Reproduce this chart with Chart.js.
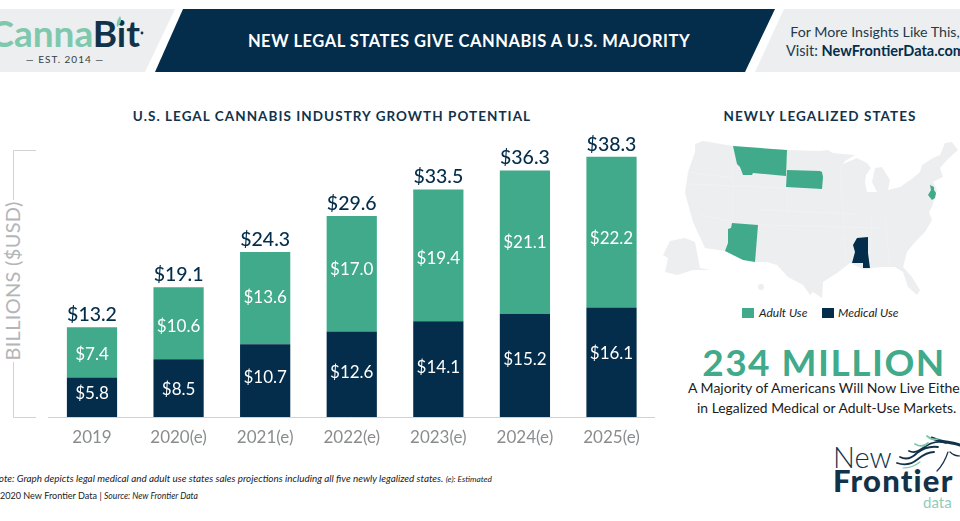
<!DOCTYPE html>
<html>
<head>
<meta charset="utf-8">
<title>New Legal States Give Cannabis a U.S. Majority</title>
<script src="https://cdn.jsdelivr.net/npm/chart.js@4/dist/chart.umd.min.js"></script>
<style>
    html, body { margin: 0; padding: 0; background: #fff; }
    #page { position: relative; width: 960px; height: 521px; overflow: hidden; }
    #art, #chart { position: absolute; left: 0; top: 0; }
    text { font-family: Lato, sans-serif; }
</style>
</head>
<body>
<div id="page">
    <svg id="art" width="960" height="521" viewBox="0 0 960 521">
        <!-- header band -->
        <polygon points="0,9 175,9 145,72 0,72" fill="#eceef0"/>
        <polygon points="183,9 775,9 745,72 155,72" fill="#032d4b"/>
        <polygon points="784,9 960,9 960,72 755,72" fill="#eceef0"/>

        <text x="140" y="47" text-anchor="end" font-size="37" font-weight="700"><tspan fill="#7fc8ae">Canna</tspan><tspan fill="#12324a">Bit</tspan></text>
        <circle cx="142" cy="33" r="1.4" fill="#12324a"/>
        <path d="M117 27 C116 22 118 19 120 16 C122 20 121 24 117 27Z" fill="#7fc8ae"/>
        <text x="65" y="63" text-anchor="middle" font-size="10" letter-spacing="1" fill="#333f48">— EST. 2014 —</text>

        <text x="469" y="47" text-anchor="middle" font-size="16.5" font-weight="700" letter-spacing="0.53" fill="#fff">NEW LEGAL STATES GIVE CANNABIS A U.S. MAJORITY</text>

        <text x="875" y="37" text-anchor="middle" font-size="14.2" fill="#253a4a">For More Insights Like This,</text>
        <text x="786" y="56" font-size="14.5" fill="#253a4a">Visit: <tspan font-weight="700" fill="#032d4b">NewFrontierData.com</tspan></text>

        <text x="332" y="121" text-anchor="middle" font-size="13.5" font-weight="700" letter-spacing="1.05" fill="#12324a">U.S. LEGAL CANNABIS INDUSTRY GROWTH POTENTIAL</text>
        <text x="820" y="121" text-anchor="middle" font-size="13.5" font-weight="700" letter-spacing="1.05" fill="#12324a">NEWLY LEGALIZED STATES</text>

        <!-- axis bracket, the title sits in the gap of the line -->
        <path d="M36 150.5 H13.5 V200 M13.5 362 V417.5 H36" fill="none" stroke="#d0d3d6" stroke-width="1"/>
        <text transform="translate(20,281) rotate(-90)" text-anchor="middle" font-size="20" letter-spacing="0.3" fill="#b3b5b7">BILLIONS ($USD)</text>

        <!-- map -->
        <g fill="#eceef0">
            <polygon points="695,144 703,141 733,146 787,150 820,151 828,150 833,153 843,154 855,155 845,161 843,164 857,158 867,163 871,168 866,175 865,182 867,192 877,192 872,182 875,168 882,167 890,180 888,190 900,187 913,178 920,172 922,165 933,158 940,155 945,143 952,142 958,150 947,160 940,168 943,177 933,182 937,190 932,207 929,212 932,220 925,232 915,242 907,252 903,267 912,277 920,290 917,295 908,287 903,272 895,267 883,267 872,268 865,270 850,263 837,273 823,282 822,298 813,292 810,295 803,285 788,277 777,265 767,262 755,262 725,251 705,248 693,222 685,193 688,172 695,152"/>
            <polygon points="670,241 685,238 695,242 700,268 710,270 693,270 677,275 665,272 668,258 663,255"/>
            <circle cx="761" cy="287" r="3"/>
        </g>
        <g fill="none" stroke="#fff" stroke-width="0.6" opacity="0.35">
            <path d="M688 172 L733 178 M687 184 L737 186 M737 186 L787 188 M787 170 L787 215 M760 210 L860 214 M760 225 L880 228 M760 240 L850 240 M840 165 L846 262 M872 215 L870 268 M885 215 L890 267 M700 215 L735 222 M733 146 L733 222"/>
        </g>
        <polygon fill="#40aa8a" points="733,146 787,150 786,176 753,173 752,175 743,175 740,167 737,164 735,155"/>
        <polygon fill="#40aa8a" points="787,170 820,171 822,172 823,177 822,189 786,187"/>
        <polygon fill="#40aa8a" points="732,223 758,225 755,262 743,260 725,251 728,243 728,229 731,228"/>
        <polygon fill="#40aa8a" points="930,185 934,187 934,190 936,193 935,198 932,200 928,195 931,190"/>
        <polygon fill="#032d4b" points="857,238 868,237 868,253 870,268 863,268 863,263 852,263 855,252 853,245"/>

        <!-- map legend -->
        <rect x="742" y="308" width="12" height="10" fill="#40aa8a"/>
        <text x="759" y="317" font-size="12" font-style="italic" fill="#222">Adult Use</text>
        <rect x="822" y="308" width="12" height="10" fill="#032d4b"/>
        <text x="838" y="317" font-size="12" font-style="italic" fill="#222">Medical Use</text>

        <!-- call out -->
        <text x="824" y="376" text-anchor="middle" font-size="37" font-weight="700" letter-spacing="1.5" fill="#40aa8a">234 MILLION</text>
        <text x="688" y="393" font-size="14" fill="#1c1c1c">A Majority of Americans Will Now Live Either</text>
        <text x="697" y="413" font-size="13.9" fill="#1c1c1c">in Legalized Medical or Adult-Use Markets.</text>

        <!-- notes -->
        <text x="-8" y="482" font-size="9.9" font-style="italic" fill="#222">Note: Graph depicts legal medical and adult use states sales projections including all five newly legalized states.  <tspan font-size="8.3">(e): Estimated</tspan></text>
        <text x="-10" y="499" font-size="9.1" fill="#222">© 2020  New Frontier Data | <tspan font-style="italic" font-size="8.6">Source: New Frontier Data</tspan></text>

        <!-- logo -->
        <text x="833" y="468" font-size="29" font-weight="300" fill="#12324a">New</text>
        <text x="833" y="492" font-size="31" font-weight="900" letter-spacing="1.2" fill="#12324a">Frontier</text>
        <text x="923" y="508" font-size="15" fill="#8fcdb8">data</text>
        <g fill="none" stroke="#12324a" stroke-width="1.8" stroke-linecap="round">
            <path d="M897 463 C905 466 912 464 918 459 C923 455 928 452 934 452"/>
            <path d="M900 457 C906 460 912 458 917 453 C922 449 930 446 938 447"/>
            <path d="M909 451 C915 454 920 450 926 446 C932 442 940 441 946 443"/>
            <path d="M932 438 C940 442 950 442 960 445" stroke-width="3"/>
            <path d="M948 452 C946 458 942 466 937 471" stroke-width="1.2"/>
            <path d="M950 452 C954 456 957 456 960 456" stroke-width="1.2"/>
            <path d="M915 444 C920 447 925 446 928 443" stroke="#7fc8ae"/>
            <path d="M927 436 C930 439 934 440 938 439" stroke="#7fc8ae"/>
            <path d="M903 468 C910 468 915 466 920 462" stroke="#7fc8ae" stroke-width="1.2"/>
        </g>
    </svg>
    <canvas id="chart" width="960" height="521"></canvas>
</div>

<script>
const categories = ['2019', '2020(e)', '2021(e)', '2022(e)', '2023(e)', '2024(e)', '2025(e)'];
const medicalUse = [5.8, 8.5, 10.7, 12.6, 14.1, 15.2, 16.1];
const adultUse = [7.4, 10.6, 13.6, 17.0, 19.4, 21.1, 22.2];
const totals = [13.2, 19.1, 24.3, 29.6, 33.5, 36.3, 38.3];

// the labels inside the bars sit a little off centre in the original
const medicalNudge = [-4, 1, -3, -2, -2, -6, -9];
const adultNudge = [2, 3, -1, -4, 3, 0, 6];

const money = v => '$' + v.toFixed(1);

const barLabels = {
    id: 'barLabels',
    afterDatasetsDraw(chart) {
        const ctx = chart.ctx;
        const medical = chart.getDatasetMeta(0).data;
        const adult = chart.getDatasetMeta(1).data;

        ctx.save();
        ctx.textAlign = 'center';
        ctx.textBaseline = 'middle';

        ctx.fillStyle = '#ffffff';
        ctx.font = '17px Lato';
        medical.forEach((bar, i) => {
            ctx.fillText(money(medicalUse[i]), bar.x, (bar.y + bar.base) / 2 + medicalNudge[i]);
        });
        adult.forEach((bar, i) => {
            ctx.fillText(money(adultUse[i]), bar.x, (bar.y + bar.base) / 2 + adultNudge[i]);
        });

        ctx.fillStyle = '#032d4b';
        ctx.font = '500 19.5px Lato';
        adult.forEach((bar, i) => {
            ctx.fillText(money(totals[i]), bar.x, bar.y - 12.5);
        });
        ctx.restore();
    }
};

function loadChart() {
    const ctx = document.getElementById('chart').getContext('2d');
    new Chart(ctx, {
        type: 'bar',
        data: {
            labels: categories,
            datasets: [
                { label: 'Medical Use', data: medicalUse, backgroundColor: '#032d4b' },
                { label: 'Adult Use', data: adultUse, backgroundColor: '#40aa8a' }
            ]
        },
        plugins: [barLabels],
        options: {
            responsive: false,
            animation: false,
            datasets: { bar: { barPercentage: 0.58, categoryPercentage: 1 } },
            layout: { padding: { left: 48.7, right: 305.2, top: 150, bottom: 0 } },
            plugins: { legend: { display: false }, tooltip: { enabled: false } },
            scales: {
                x: {
                    stacked: true,
                    afterFit: scale => { scale.height = 104; },
                    grid: { display: false, drawTicks: false },
                    border: { display: true, color: '#d0d3d6' },
                    ticks: { color: '#8a8c8e', font: { family: 'Lato', size: 17 }, padding: 10, maxRotation: 0 }
                },
                y: { stacked: true, display: false, min: 0, max: 39.3 }
            }
        }
    });
}

loadChart();
</script>
</body>
</html>
